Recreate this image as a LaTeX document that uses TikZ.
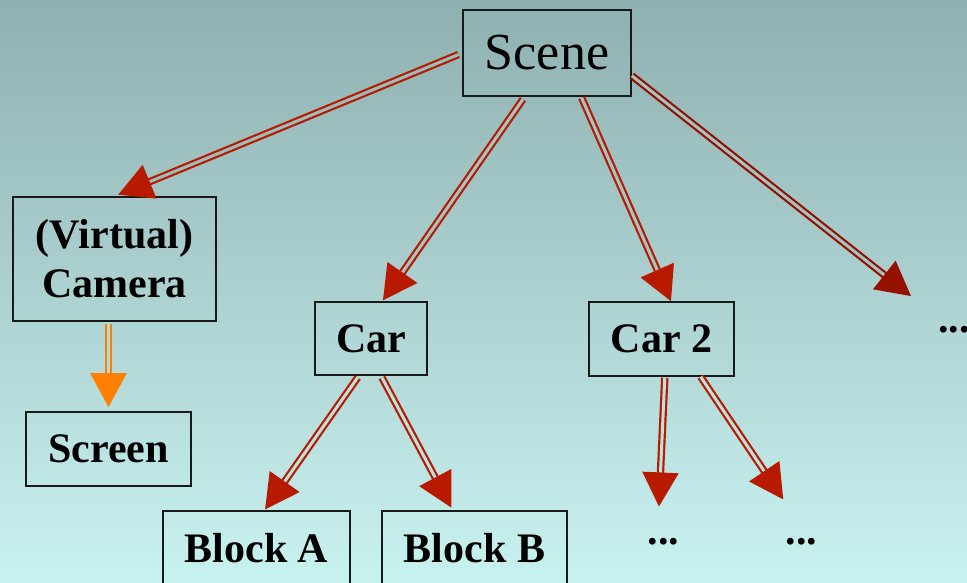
\documentclass[tikz,border=0pt]{standalone}
\usepackage{fontspec}
\setmainfont{Liberation Serif}
\usetikzlibrary{arrows.meta}
\definecolor{bgtop}{RGB}{143,176,176}
\definecolor{bgbot}{RGB}{200,242,240}
\definecolor{arrred}{RGB}{184,26,0}
\definecolor{arrdark}{RGB}{150,16,0}
\definecolor{arrorange}{RGB}{255,128,0}
\newcommand*{\bfnode}{\fontsize{42}{49}\selectfont\bfseries}

\begin{document}
\begin{tikzpicture}[x=1pt, y=-1pt,
        box/.style={draw=black!90, line width=1.6pt, inner sep=0pt, align=center, font=\bfnode},
        more/.style={inner sep=0pt, font=\bfnode},
        arr/.style={draw=arrred, line width=2.2pt, double=bgbot!#1!bgtop, double distance=3pt, -{Triangle[length=34pt, width=36pt]}}]
    \useasboundingbox(0, 0) rectangle(967, 582);
    \shade[top color=bgtop, bottom color=bgbot](0, 0) rectangle(967, 582);
    \clip(0, 0) rectangle(967, 582);
    \node[box, minimum width=168pt, minimum height=86pt, font=\fontsize{52}{60}\selectfont](S)at(547, 53){Scene};
    \node[box, minimum width=203pt, minimum height=124pt](Cam)at(114.5, 259){(Virtual)\\Camera};
    \node[box, minimum width=165pt, minimum height=74pt](Scr)at(108.5, 449){Screen};
    \node[box, minimum width=112pt, minimum height=73pt](C1)at(371, 338.5){Car};
    \node[box, minimum width=145pt, minimum height=74pt](C2)at(661.5, 339){Car 2};
    \node[box, minimum width=187pt, minimum height=74pt](BA)at(256.5, 548){Block A};
    \node[box, minimum width=185pt, minimum height=74pt](BB)at(474.5, 548){Block B};
    \node[more](D1)at(663.5, 542){...};
    \node[more](D2)at(801.5, 542){...};
    \node[more](D3)at(954, 330){...};
    % scene level
    \draw[arr=21, shorten <=4pt, shorten >=4pt](S.west)--(Cam.north);
    \draw[arr=34, shorten <=3pt, shorten >=1pt](S.243)--(C1.73);
    \draw[arr=34, shorten <=1pt](S.-52)--(C2.76);
    \draw[arr=32, draw=arrdark, shorten >=49pt](S.-15)--(D3);
    \draw[arr=63, draw=arrorange, shorten <=2pt, shorten >=4pt](Scr.north |- Cam.south)--(Scr.north);
    % cars
    \draw[arr=76, shorten <=2pt, shorten >=1pt](C1.252)--(BA.78);
    \draw[arr=76, shorten <=2pt, shorten >=3pt](C1.-75)--(BB.120);
    \draw[arr=76, shorten <=1pt, shorten >=32pt](C2.-85)--([xshift=-6pt]D1.north);
    \draw[arr=75, shorten >=47pt](C2.-44)--([xshift=8pt]D2.north);
\end{tikzpicture}
\end{document}
